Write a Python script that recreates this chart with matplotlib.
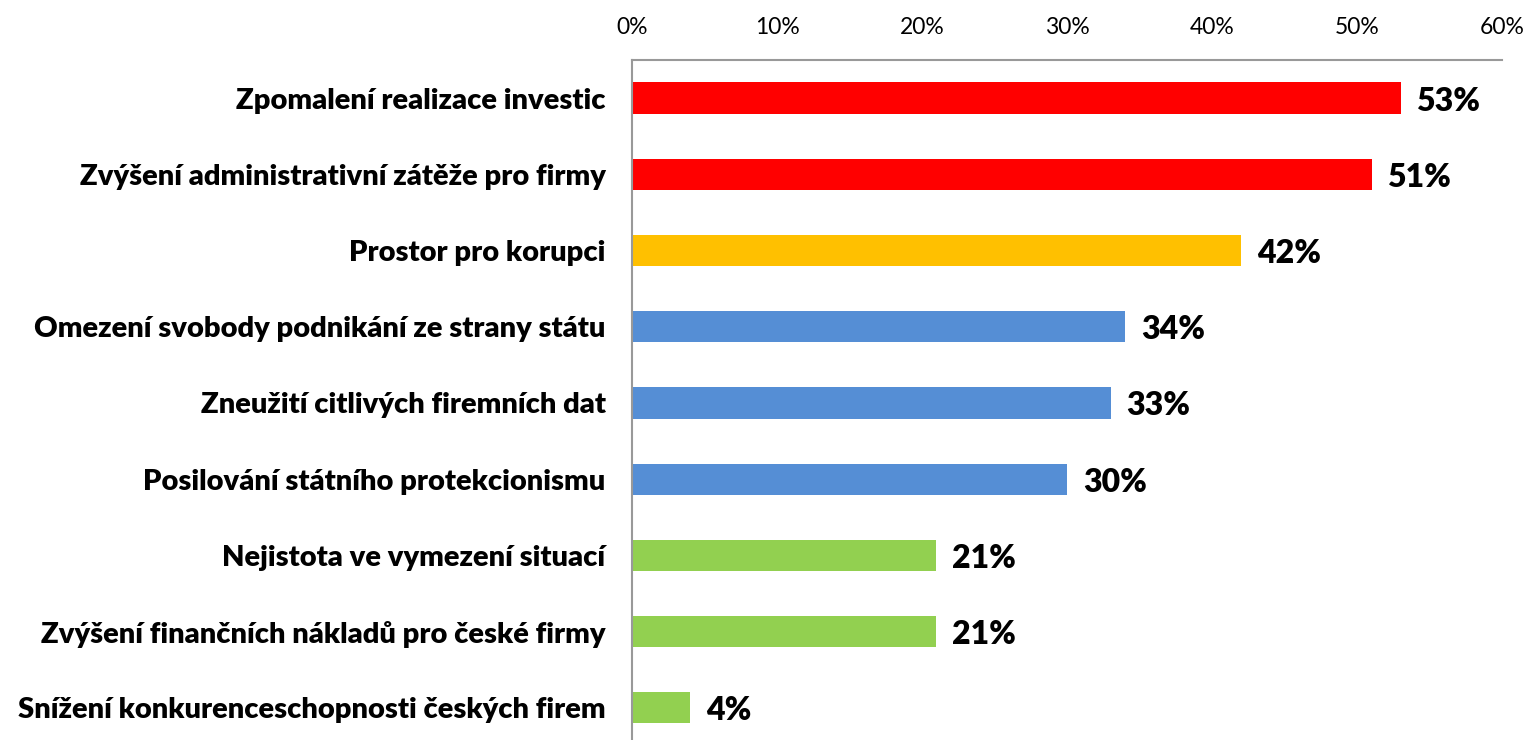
import matplotlib.pyplot as plt
from matplotlib.ticker import FuncFormatter

plt.rcParams['font.family'] = ['Lato', 'DejaVu Sans']

categories = [
    "Zpomalení realizace investic",
    "Zvýšení administrativní zátěže pro firmy",
    "Prostor pro korupci",
    "Omezení svobody podnikání ze strany státu",
    "Zneužití citlivých firemních dat",
    "Posilování státního protekcionismu",
    "Nejistota ve vymezení situací",
    "Zvýšení finančních nákladů pro české firmy",
    "Snížení konkurenceschopnosti českých firem",
]
values = [53, 51, 42, 34, 33, 30, 21, 21, 4]
colors = ["#FF0000", "#FF0000", "#FFC000", "#558ED5", "#558ED5", "#558ED5",
          "#92D050", "#92D050", "#92D050"]

fig = plt.figure(figsize=(15.28, 7.40), dpi=100)
ax = fig.add_axes([0.4136, -0.008, 0.5694, 0.927])

ypos = list(range(len(categories)))
ax.barh(ypos, values, height=0.41, color=colors)
ax.set_ylim(len(categories) - 0.5, -0.5)
ax.set_xlim(0, 60)
ax.set_xticks(range(0, 61, 10))
ax.xaxis.set_major_formatter(FuncFormatter(lambda v, p: f"{int(v)}%"))
ax.xaxis.tick_top()
ax.tick_params(axis='x', length=0, pad=16, labelsize=16.5)
ax.set_yticks(ypos)
ax.set_yticklabels(categories, fontsize=21, fontweight='heavy')
ax.tick_params(axis='y', length=0, pad=19)

for s in ['right', 'bottom']:
    ax.spines[s].set_visible(False)
for s in ['top', 'left']:
    ax.spines[s].set_color('#999999')
    ax.spines[s].set_linewidth(1.5)

for y, v in zip(ypos, values):
    ax.text(v + 1.1, y + 0.04, f"{v}%", va='center', ha='left',
            fontsize=23, fontweight='heavy')

fig.savefig("out.png", dpi=100)
